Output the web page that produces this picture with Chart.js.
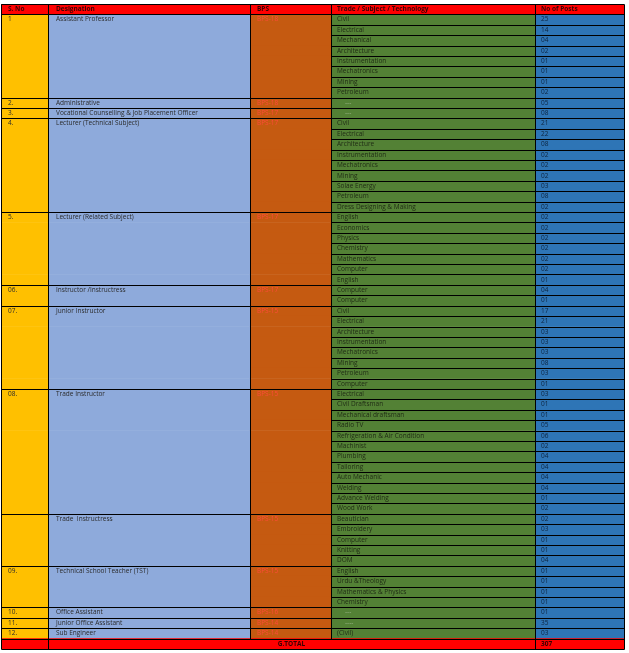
<!DOCTYPE html>
<html><head><meta charset="utf-8">
<script src="https://cdn.jsdelivr.net/npm/chart.js@4"></script>
<style>html,body{margin:0;padding:0;background:#fff}</style>
</head><body>
<canvas id="c" width="629" height="653"></canvas>
<script>
const headers = ["S. No","Designation","BPS","Trade / Subject / Technology","No of Posts"];
const groupSno   = ["1","2.","3.","4.","5.","06.","07.","08.","","09.","10.","11.","12."];
const groupDesig = ["Assistant Professor","Administrative","Vocational Counselling & Job Placement Officer","Lecturer (Technical Subject)","Lecturer (Related Subject)","Instructor /Instructress","Junior Instructor","Trade Instructor","Trade  Instructress","Technical School Teacher (TST)","Office Assistant","Junior Office Assistant","Sub Engineer"];
const groupBps   = ["BPS-18","BPS-18","BPS-17","BPS-17","BPS-17","BPS-17","BPS-15","BPS-15","BPS-15","BPS-15","BPS-16","BPS-14","BPS-14"];
const groupSpan  = [8,1,1,9,7,2,8,12,5,4,1,1,1];
const trades = ["Civil","Electrical","Mechanical","Architecture","Instrumentation","Mechatronics","Mining","Petroleum",
 "---","---",
 "Civil","Electrical","Architecture","Instrumentation","Mechatronics","Mining","Solae Energy","Petroleum","Dress Designing & Making",
 "English","Economics","Physics","Chemistry","Mathematics","Computer","English",
 "Computer","Computer",
 "Civil","Electrical","Architecture","Instrumentation","Mechatronics","Mining","Petroleum","Computer",
 "Electrical","Civil Draftsman","Mechanical draftsman","Radio TV","Refrigeration & Air Condition","Machinist","Plumbing","Tailoring","Auto Mechanic","Welding","Advance Welding","Wood Work",
 "Beautician","Embroidery","Computer","Knitting","DOM",
 "English","Urdu &Theology","Mathematics & Physics","Chemistry",
 "---","----","(Civil)"];
const posts = ["25","14","04","02","01","01","01","02","05","08",
 "21","22","08","02","02","02","03","08","02",
 "02","02","02","02","02","02","01","04","01",
 "17","21","03","03","03","08","03","01",
 "03","01","01","05","06","02","04","04","04","04","01","02",
 "02","03","01","01","04","01","01","01","01","01","35","03"];
const totalLabel = "G.TOTAL", totalValue = "307";
const colEdges = [0,47,249,330,534,623];
const colColors = ["#ffc000","#8eaadb","#c55a11","#538135","#2e75b6"];
const RED = "#ff0000";

const nRows = trades.length + 2;
const labels = Array.from({length:nRows},(_,i)=>"r"+i);
// group start rows
const groupStart = []; let acc = 1;
groupSpan.forEach(s=>{groupStart.push(acc); acc+=s;});
const last = nRows-1;

const datasets = colColors.map((col,c)=>({
  data: labels.map(()=>[colEdges[c],colEdges[c+1]]),
  backgroundColor: labels.map((_,r)=> (r===0||r===last)?RED:col),
  borderWidth:0, barPercentage:1, categoryPercentage:1, grouped:false
}));

const tablePlugin = {
  id:'tbl',
  afterDatasetsDraw(chart){
    const ctx=chart.ctx, xs=chart.scales.x, ys=chart.scales.y;
    const X=v=>Math.round(xs.getPixelForValue(v))+0.5;
    const half=(ys.getPixelForValue(1)-ys.getPixelForValue(0))/2;
    const top=r=>Math.round(ys.getPixelForValue(r)-half)+0.5;
    const mid=r=>ys.getPixelForValue(r);
    ctx.save();
    ctx.strokeStyle="#000"; ctx.lineWidth=1;
    const line=(x1,y1,x2,y2)=>{ctx.beginPath();ctx.moveTo(x1,y1);ctx.lineTo(x2,y2);ctx.stroke();};
    // vertical lines
    colEdges.forEach((e,i)=>{
      if(i===2||i===3){ line(X(e),top(0),X(e),top(last)); }
      else line(X(e),top(0),X(e),top(nRows));
    });
    // horizontal lines
    const gs=new Set(groupStart); gs.add(last); gs.add(1);
    for(let r=0;r<=nRows;r++){
      if(r===0||r===nRows||gs.has(r)) line(X(colEdges[0]),top(r),X(colEdges[5]),top(r));
      else line(X(colEdges[3]),top(r),X(colEdges[5]),top(r));
    }
    // text
    ctx.textBaseline="middle";
    ctx.font="bold 6.5px 'Open Sans'"; ctx.fillStyle="#3a0000";
    const pads=[7,8,7,6,6];
    headers.forEach((h,i)=>ctx.fillText(h,xs.getPixelForValue(colEdges[i])+pads[i],mid(0)));
    ctx.font="6.5px 'Open Sans'";
    groupStart.forEach((r,g)=>{
      ctx.fillStyle="#2b2b2b";
      ctx.fillText(groupSno[g],xs.getPixelForValue(colEdges[0])+pads[0],mid(r));
      ctx.fillText(groupDesig[g],xs.getPixelForValue(colEdges[1])+pads[1],mid(r));
      ctx.fillStyle="#ff4a3a";
      ctx.fillText(groupBps[g],xs.getPixelForValue(colEdges[2])+pads[2],mid(r));
    });
    ctx.fillStyle="#2b2b2b";
    trades.forEach((t,i)=>{
      const tx = t.startsWith("---")? 14:pads[3];
      ctx.fillStyle = t.startsWith("---")?"#9bb58a":"#1f2a14";
      ctx.fillText(t,xs.getPixelForValue(colEdges[3])+tx,mid(i+1));
      ctx.fillStyle="#0d2540";
      ctx.fillText(posts[i],xs.getPixelForValue(colEdges[4])+pads[4],mid(i+1));
    });
    ctx.font="bold 6.5px 'Open Sans'"; ctx.fillStyle="#3a0000";
    ctx.textAlign="center";
    ctx.fillText(totalLabel,(xs.getPixelForValue(colEdges[1])+xs.getPixelForValue(colEdges[4]))/2,mid(last));
    ctx.textAlign="left";
    ctx.fillText(totalValue,xs.getPixelForValue(colEdges[4])+pads[4],mid(last));
    ctx.restore();
  }
};

new Chart(document.getElementById('c'),{
  type:'bar',
  data:{labels,datasets},
  options:{
    indexAxis:'y', responsive:false, animation:false, devicePixelRatio:1,
    layout:{padding:{left:1,right:5,top:4,bottom:4}},
    plugins:{legend:{display:false},tooltip:{enabled:false}},
    scales:{
      x:{type:'linear',min:0,max:623,display:false},
      y:{type:'category',display:false,offset:true}
    }
  },
  plugins:[tablePlugin]
});
</script>
</body></html>
